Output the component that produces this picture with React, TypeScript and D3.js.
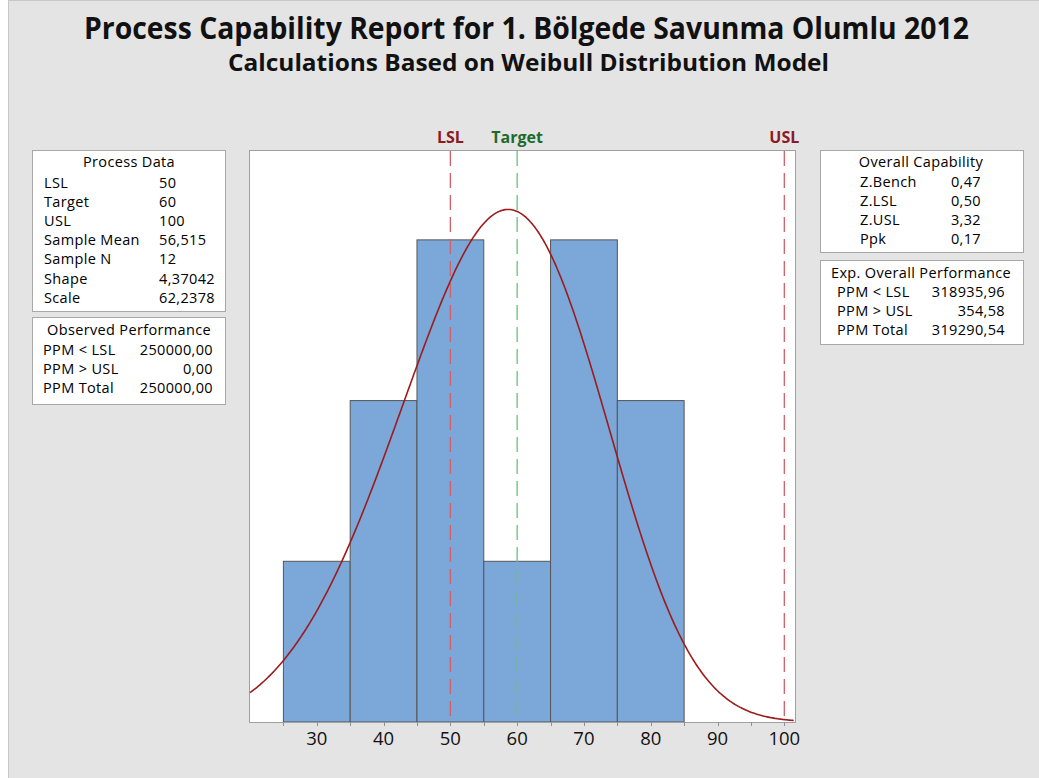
import React from "react";
import * as d3 from "d3";

const binEdges = [25, 35, 45, 55, 65, 75, 85];
const binCounts = [1, 2, 3, 1, 3, 2];
const specNames = ["LSL", "Target", "USL"];
const specValues = [50, 60, 100];
const xTicksMajor = [30, 40, 50, 60, 70, 80, 90, 100];
const xTicksMinor = [25, 35, 45, 55, 65, 75, 85, 95];
const weibullShape = 4.37042;
const weibullScale = 62.2378;
const sampleN = 12;

const processDataLabels = ["LSL", "Target", "USL", "Sample Mean", "Sample N", "Shape", "Scale"];
const processDataValues = ["50", "60", "100", "56,515", "12", "4,37042", "62,2378"];
const observedLabels = ["PPM < LSL", "PPM > USL", "PPM Total"];
const observedValues = ["250000,00", "0,00", "250000,00"];
const capabilityLabels = ["Z.Bench", "Z.LSL", "Z.USL", "Ppk"];
const capabilityValues = ["0,47", "0,50", "3,32", "0,17"];
const expectedLabels = ["PPM < LSL", "PPM > USL", "PPM Total"];
const expectedValues = ["318935,96", "354,58", "319290,54"];

const FONT = "'Open Sans', 'Noto Sans', sans-serif";

function weibullPdf(x: number) {
  if (x <= 0) return 0;
  const z = x / weibullScale;
  return (weibullShape / weibullScale) * Math.pow(z, weibullShape - 1) * Math.exp(-Math.pow(z, weibullShape));
}

export default function App() {
  const W = 1039, H = 778;
  const pl = 250, pr = 795, pt = 151, pb = 722;
  const x = d3.scaleLinear().domain([20, 101.6]).range([pl, pr]);
  const y = d3.scaleLinear().domain([0, 3.553]).range([pb, pt]);
  const binWidth = binEdges[1] - binEdges[0];

  const curvePts: [number, number][] = [];
  for (let v = 20; v <= 101.6; v += 0.2) curvePts.push([v, weibullPdf(v) * sampleN * binWidth]);
  const line = d3.line<[number, number]>().x(d => x(d[0])).y(d => y(d[1])).curve(d3.curveMonotoneX);

  const specLineColors = ["#d0606a", "#6cbf7e", "#d0606a"];
  const specTextColors = ["#8b1a24", "#1d6b2c", "#8b1a24"];

  const box = (x0: number, y0: number, w: number, h: number) => (
    <rect x={x0 + 0.5} y={y0 + 0.5} width={w} height={h} fill="#fff" stroke="#a8a8a8" strokeWidth={1} />
  );

  const fs = 14.5;
  const ls = 0.35;
  const T = (props: any) => (
    <text fontSize={fs} letterSpacing={ls} fill="#000" {...props} />
  );

  return (
    <svg width={W} height={H} style={{ position: "absolute", left: 0, top: 0 }} fontFamily={FONT}>
      <rect x={0} y={0} width={W} height={H} fill="#fff" />
      <rect x={8.5} y={0.5} width={W + 10} height={H + 10} fill="#e4e4e4" stroke="#c8c8c8" />

      <text x={84} y={39} fontSize={29.5} fontWeight="bold" fill="#111" textLength={885} lengthAdjust="spacingAndGlyphs">
        Process Capability Report for 1. Bölgede Savunma Olumlu 2012
      </text>
      <text x={228} y={71} fontSize={22.5} fontWeight="bold" fill="#111" textLength={601} lengthAdjust="spacingAndGlyphs">
        Calculations Based on Weibull Distribution Model
      </text>

      {/* plot area */}
      <rect x={pl - 0.5} y={pt - 0.5} width={pr - pl + 1} height={pb - pt + 1} fill="#fff" stroke="#a0a0a0" />

      {binCounts.map((c, i) => (
        <rect key={i} x={x(binEdges[i])} y={y(c)} width={x(binEdges[i + 1]) - x(binEdges[i])} height={y(0) - y(c)}
          fill="#7ba7d9" stroke="#555" strokeWidth={1} />
      ))}

      {specValues.map((v, i) => (
        <g key={i}>
          <line x1={x(v)} x2={x(v)} y1={pt} y2={pb} stroke={specLineColors[i]} strokeWidth={1.3} strokeDasharray="15,7" />
          <text x={x(v)} y={143} textAnchor="middle" fontSize={16} fontWeight="bold" fill={specTextColors[i]}>{specNames[i]}</text>
        </g>
      ))}

      <path d={line(curvePts) || ""} fill="none" stroke="#9e1b1b" strokeWidth={1.6} />

      {/* axis */}
      <line x1={pl - 0.5} x2={pr + 0.5} y1={pb + 0.5} y2={pb + 0.5} stroke="#a0a0a0" />
      {xTicksMinor.map(t => (
        <line key={"m" + t} x1={Math.round(x(t)) + 0.5} x2={Math.round(x(t)) + 0.5} y1={pb} y2={pb + 4} stroke="#909090" />
      ))}
      {xTicksMajor.map(t => (
        <g key={t}>
          <line x1={Math.round(x(t)) + 0.5} x2={Math.round(x(t)) + 0.5} y1={pb} y2={pb + 4} stroke="#909090" />
          <text x={x(t)} y={745} textAnchor="middle" fontSize={18.5} fill="#111">{t}</text>
        </g>
      ))}

      {/* Process Data */}
      {box(32, 150, 193, 161)}
      <T x={129} y={167} textAnchor="middle">Process Data</T>
      {processDataLabels.map((l, i) => (
        <g key={l}>
          <T x={44} y={188 + i * 19.1}>{l}</T>
          <T x={159} y={188 + i * 19.1}>{processDataValues[i]}</T>
        </g>
      ))}

      {/* Observed Performance */}
      {box(32, 317, 193, 87)}
      <T x={129} y={335} textAnchor="middle">Observed Performance</T>
      {observedLabels.map((l, i) => (
        <g key={l}>
          <T x={43} y={355 + i * 19.1}>{l}</T>
          <T x={213} y={355 + i * 19.1} textAnchor="end">{observedValues[i]}</T>
        </g>
      ))}

      {/* Overall Capability */}
      {box(820, 150, 203, 102)}
      <T x={921} y={167} textAnchor="middle">Overall Capability</T>
      {capabilityLabels.map((l, i) => (
        <g key={l}>
          <T x={860} y={187 + i * 19.1}>{l}</T>
          <T x={981} y={187 + i * 19.1} textAnchor="end">{capabilityValues[i]}</T>
        </g>
      ))}

      {/* Exp. Overall Performance */}
      {box(820, 260, 203, 84)}
      <T x={921} y={278} textAnchor="middle">Exp. Overall Performance</T>
      {expectedLabels.map((l, i) => (
        <g key={l}>
          <T x={837} y={297 + i * 19.1}>{l}</T>
          <T x={1005} y={297 + i * 19.1} textAnchor="end">{expectedValues[i]}</T>
        </g>
      ))}
    </svg>
  );
}
